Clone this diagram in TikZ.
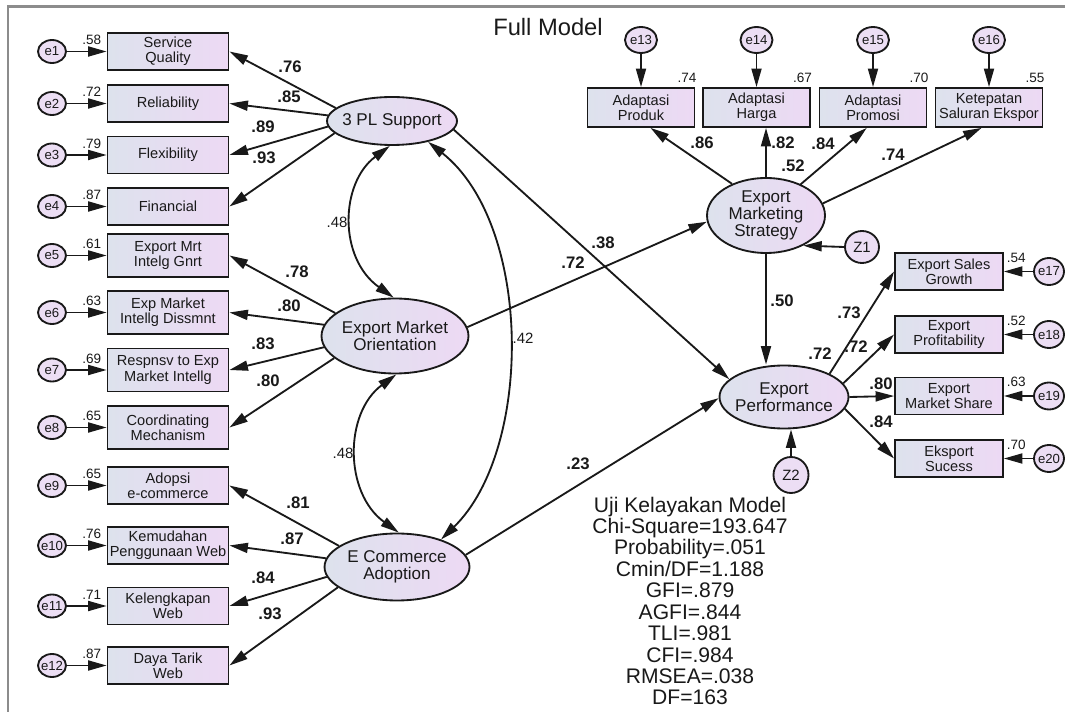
\documentclass[tikz,border=0pt]{standalone}
\usepackage{fontspec}
\setmainfont{Liberation Sans}
\usetikzlibrary{calc, positioning, arrows.meta, shapes.geometric}

\definecolor{boxleft}{RGB}{221,226,237}
\definecolor{boxright}{RGB}{237,217,244}
\definecolor{errfill}{RGB}{236,222,244}
\definecolor{framegray}{RGB}{140,140,140}

\newcommand{\LeftItem}[6][]{%
    % #1 : extra box options
    % #2 : name
    % #3 : y
    % #4 : error term
    % #5 : text
    % #6 : squared multiple correlation
    \node[obs, #1] (#2) at (168,#3) {#5};
    \node[err] (#2e) at (52,#3) {\makebox[0pt]{#4}};
    \draw[arr] (#2e) -- (#2);
    \node[smc, anchor=east] (#2v) at ($(#2.west)+(-4.5,-11.5)$) {#6};
}
\newcommand{\TopItem}[5]{%
    % #1 : name
    % #2 : x
    % #3 : error term
    % #4 : text
    % #5 : squared multiple correlation
    \node[obs, minimum width=2.14cm, minimum height=0.78cm] (#1) at (#2,107.5) {#4};
    \node[err, minimum width=0.64cm, minimum height=0.52cm] (#1e) at (#2,40) {\makebox[0pt]{#3}};
    \draw[arr] (#1e) -- (#1);
    \node[smc, anchor=east] (#1v) at ($(#1.east)+(2,-29.5)$) {#5};
}
\newcommand{\RightItem}[5]{%
    % #1 : name
    % #2 : y
    % #3 : error term
    % #4 : text
    % #5 : squared multiple correlation
    \node[obs, minimum width=2.16cm, minimum height=0.74cm] (#1) at (949,#2) {#4};
    \node[err, minimum width=0.6cm, minimum height=0.54cm] (#1e) at (1049,#2) {\makebox[0pt]{#3}};
    \draw[arr] (#1e) -- (#1);
    \node[smc, anchor=west] (#1v) at ($(#1.east)+(2,-14)$) {#5};
}

\begin{document}
\begin{tikzpicture}[
        x=0.02cm, y=-0.02cm,
        line width=1.05pt,
        draw=black!90,
        text=black!90,
        obs/.style={rectangle, draw=black!90, left color=boxleft, right color=boxright,
            minimum width=2.42cm, minimum height=0.74cm, inner sep=1pt, align=center,
            font=\fontsize{8.3}{8.7}\selectfont},
        lat/.style={ellipse, draw=black!90, left color=boxleft, right color=boxright,
            inner sep=-4pt, align=center, font=\fontsize{9.7}{9.9}\selectfont},
        err/.style={ellipse, draw=black!90, fill=errfill, inner sep=0pt,
            minimum width=0.56cm, minimum height=0.46cm, font=\fontsize{7.5}{8}\selectfont},
        arr/.style={-{Triangle[length=0.37cm, width=0.2cm]}},
        biarr/.style={{Triangle[length=0.37cm, width=0.2cm]}-{Triangle[length=0.37cm, width=0.2cm]}},
        coef/.style={font=\fontsize{9.5}{10}\selectfont\bfseries, inner sep=0pt},
        corr/.style={font=\fontsize{8.5}{9}\selectfont, inner sep=0pt},
        smc/.style={font=\fontsize{7.7}{8}\selectfont, inner sep=0pt},
    ]

    \useasboundingbox (0,0) rectangle (1065,712);
    \draw[framegray, line width=1.2pt] (8,712) -- (8,6.5) -- (1065,6.5);

    \node[font=\fontsize{13.5}{14}\selectfont] (title) at (548,27) {Full Model};

    % latent variables
    \node[lat, minimum width=2.6cm, minimum height=0.96cm] (tpl) at (392,121) {3 PL Support};
    \node[lat, minimum width=2.94cm, minimum height=1.5cm] (emo) at (395,336) {Export Market\\Orientation};
    \node[lat, minimum width=2.9cm, minimum height=1.34cm] (eca) at (397,567) {E Commerce\\Adoption};
    \node[lat, minimum width=2.36cm, minimum height=1.5cm] (ems) at (766,215.5) {Export\\Marketing\\Strategy};
    \node[lat, minimum width=2.58cm, minimum height=1.26cm] (ep) at (784,397) {Export\\Performance};
    \node[err, minimum width=0.68cm, minimum height=0.64cm, font=\fontsize{8.5}{9}\selectfont] (z1) at (862,247) {Z1};
    \node[err, minimum width=0.7cm, minimum height=0.72cm, font=\fontsize{8.5}{9}\selectfont] (z2) at (791,475) {Z2};

    % indicators
    \LeftItem{sq}{51.5}{e1}{Service\\Quality}{.58}
    \LeftItem{rel}{103.5}{e2}{Reliability}{.72}
    \LeftItem{flex}{155}{e3}{Flexibility}{.79}
    \LeftItem{fin}{206.5}{e4}{Financial}{.87}
    \LeftItem[minimum height=0.86cm]{mrt}{255.5}{e5}{Export Mrt\\Intelg Gnrt}{.61}
    \LeftItem[minimum height=0.86cm]{dis}{312.5}{e6}{Exp Market\\Intellg Dissmnt}{.63}
    \LeftItem[minimum height=0.86cm]{res}{370}{e7}{Respnsv to Exp\\Market Intellg}{.69}
    \LeftItem[minimum height=0.86cm]{coo}{427.5}{e8}{Coordinating\\Mechanism}{.65}
    \LeftItem{ado}{485.5}{e9}{Adopsi\\e-commerce}{.65}
    \LeftItem{kem}{545.5}{e10}{Kemudahan\\Penggunaan Web}{.76}
    \LeftItem{kel}{606}{e11}{Kelengkapan\\Web}{.71}
    \LeftItem{day}{665.5}{e12}{Daya Tarik\\Web}{.87}

    \TopItem{prod}{641}{e13}{Adaptasi\\Produk}{.74}
    \TopItem{harg}{756.5}{e14}{Adaptasi\\Harga}{.67}
    \TopItem{prom}{873}{e15}{Adaptasi\\Promosi}{.70}
    \TopItem{ket}{989}{e16}{Ketepatan\\Saluran Ekspor}{.55}

    \RightItem{sal}{271.5}{e17}{Export Sales\\Growth}{.54}
    \RightItem{pro}{334.5}{e18}{Export\\Profitability}{.52}
    \RightItem{sha}{396}{e19}{Export\\Market Share}{.63}
    \RightItem{suc}{458.5}{e20}{Eksport\\Sucess}{.70}

    % loadings
    \foreach \a/\b in {167/sq, 175/rel, 185/flex, 192/fin}
        \draw[arr] (tpl.\a) -- (\b.east);
    \foreach \a/\b in {159/mrt, 171/dis, 189/res, 200/coo}
        \draw[arr] (emo.\a) -- (\b.east);
    \foreach \a/\b in {160/ado, 173/kem, 188/kel, 199/day}
        \draw[arr] (eca.\a) -- (\b.east);
    \draw[arr] (ems.137) -- (prod.-65);
    \draw[arr] (ems.north) -- (ems.north |- harg.south);
    \draw[arr] (ems.42) -- (prom.-107);
    \draw[arr] (ems.12) -- (ket.-110);
    \foreach \a/\b in {27/sal, 13/pro, 0/sha, -11/suc}
        \draw[arr] (ep.\a) -- (\b.west);

    % structural paths
    \draw[arr] (tpl.-8) -- (ep.162);
    \draw[arr] (emo.7) -- (ems.186);
    \draw[arr] (eca.10) -- (ep.181);
    \draw[arr] (ems.south) -- (ems.south |- ep.north);
    \draw[arr] (z1.west) -- (ems.-39);
    \draw[arr] (z2.north) -- (z2.north |- ep.south);

    % covariances
    \draw[biarr] (tpl.265) .. controls (340,183) and (338,258) .. (emo.92);
    \draw[biarr] (emo.272) .. controls (344,413) and (344,493) .. (eca.87);
    \draw[biarr] (tpl.-30) .. controls (533,225) and (533,450) .. (eca.32);

    \node[corr] (r1) at (337,222) {.48};
    \node[corr] (r2) at (343,453) {.48};
    \node[corr] (r3) at (523,338) {.42};

    \foreach \x/\y/\t [count=\i] in {
        290/67/.76, 289/97/.85, 263/127/.89, 264/158/.93,
        297/272/.78, 289/306/.80, 263/344/.83, 268/381/.80,
        298/503/.81, 292/539/.87, 263/578/.84, 270/614/.93,
        603/243/.38, 573/263/.72, 578/464/.23,
        702/143/.86, 783/143/.82, 823/144/.84, 793/166/.52, 893/155/.74,
        782/301/.50, 820/354/.72, 849/313/.73, 856/347/.72, 881/384/.80, 881/422/.84}
        \node[coef] (w\i) at (\x,\y) {\t};

    % fit indices
    \node[font=\fontsize{12}{12.2}\selectfont, align=center] (fit) at (690,601) {Uji Kelayakan Model\\Chi-Square=193.647\\Probability=.051\\Cmin/DF=1.188\\GFI=.879\\AGFI=.844\\TLI=.981\\CFI=.984\\RMSEA=.038\\DF=163};

\end{tikzpicture}
\end{document}
